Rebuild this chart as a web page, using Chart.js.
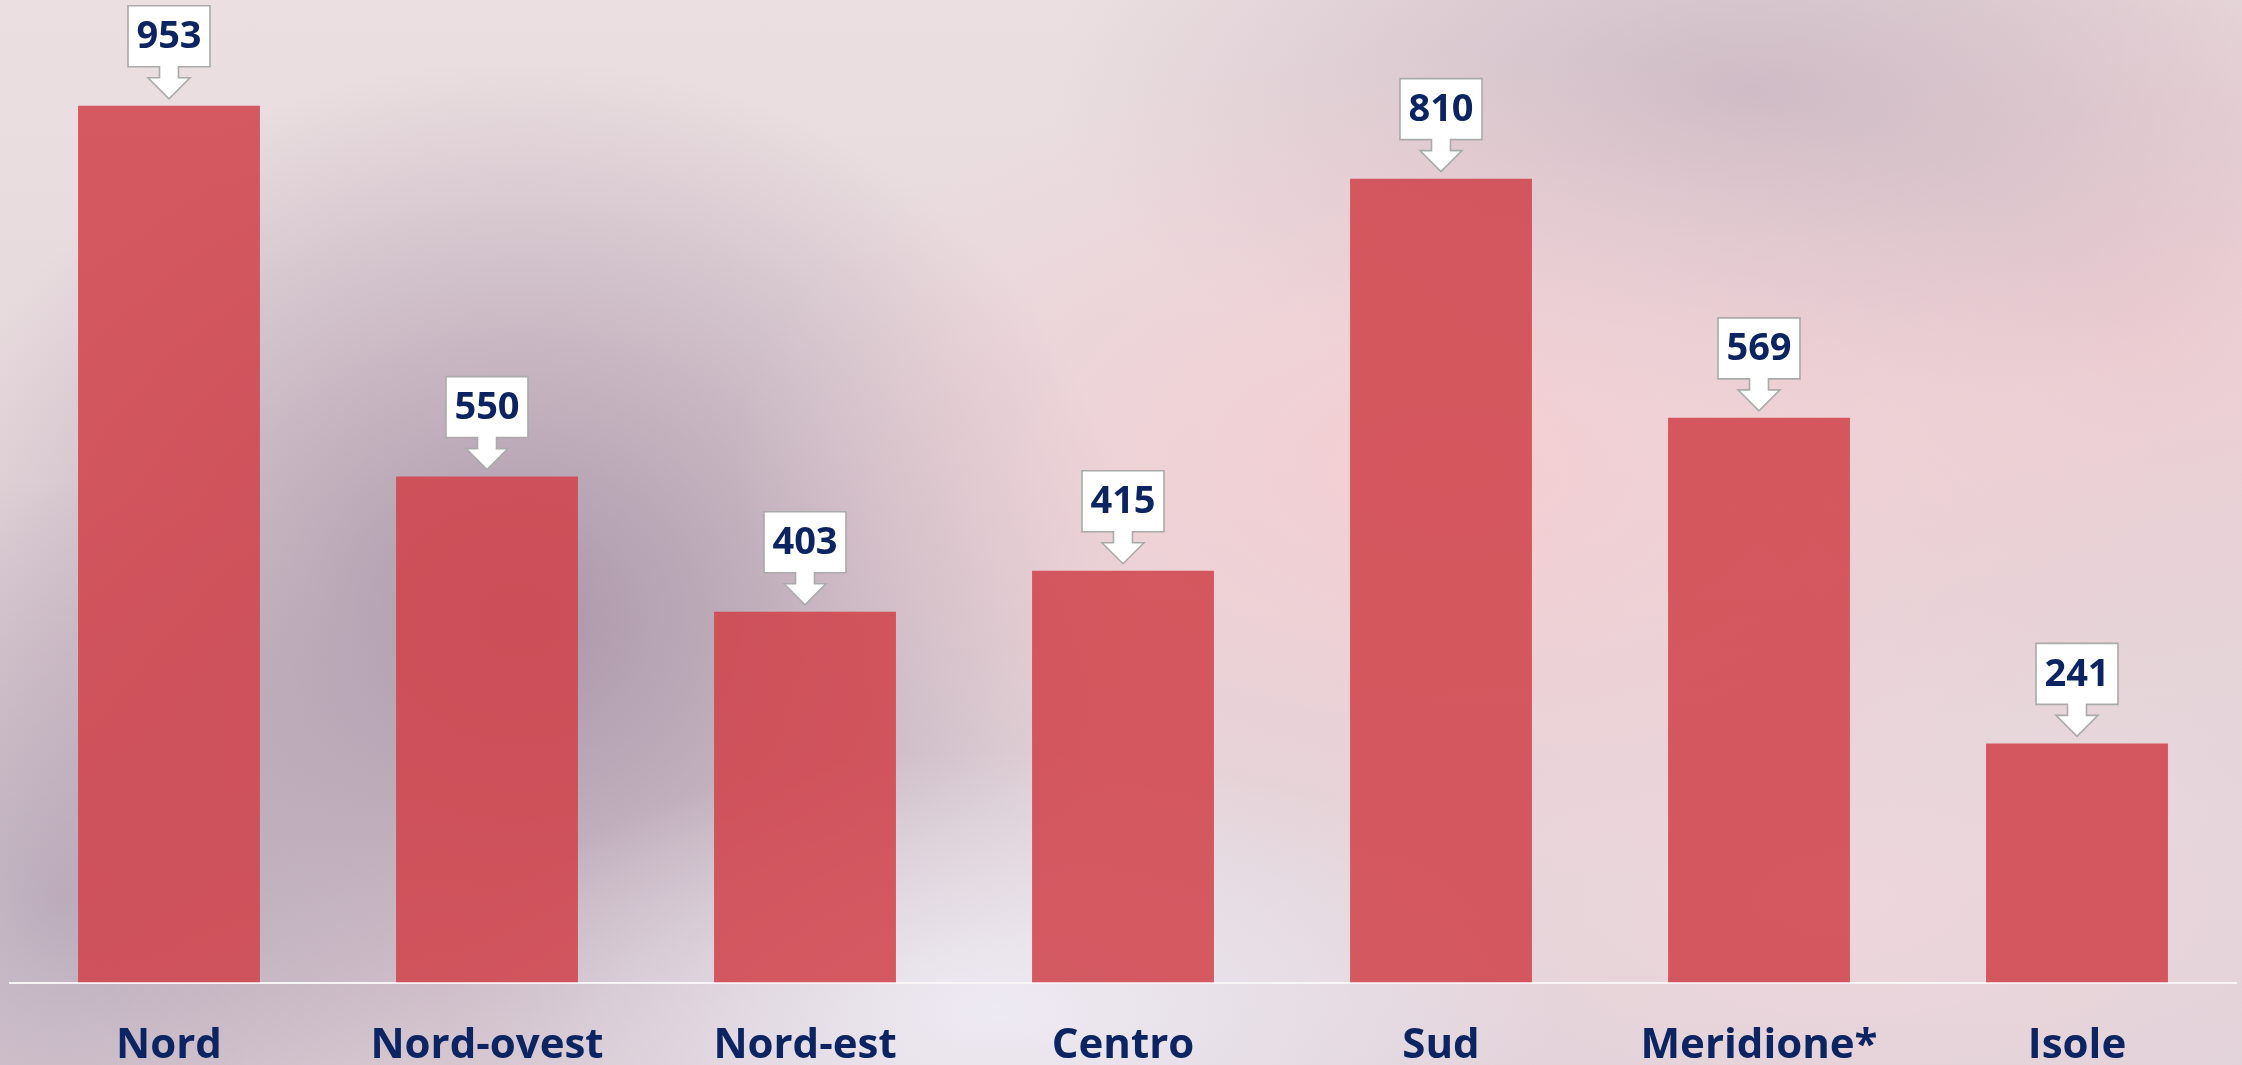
<!DOCTYPE html>
<html>
<head>
<meta charset="utf-8">
<script src="https://cdn.jsdelivr.net/npm/chart.js@4/dist/chart.umd.min.js"></script>
<style>
  html, body { margin: 0; padding: 0; }
  body {
    width: 2242px; height: 1065px; overflow: hidden; position: relative;
    background:
      radial-gradient(ellipse 560px 260px at 1000px 1010px, rgba(238,235,244,0.95), rgba(238,235,244,0) 100%),
      radial-gradient(ellipse 720px 420px at 1450px 470px, rgba(246,204,209,0.85), rgba(246,204,209,0) 100%),
      radial-gradient(ellipse 620px 560px at 520px 620px, rgba(160,138,160,0.85), rgba(160,138,160,0) 100%),
      radial-gradient(ellipse 380px 420px at 60px 900px, rgba(175,160,178,0.7), rgba(175,160,178,0) 100%),
      radial-gradient(ellipse 700px 330px at 1750px 90px, rgba(198,176,188,0.75), rgba(198,176,188,0) 100%),
      radial-gradient(ellipse 500px 420px at 2150px 320px, rgba(238,198,204,0.7), rgba(238,198,204,0) 100%),
      radial-gradient(ellipse 600px 300px at 1850px 900px, rgba(240,215,220,0.8), rgba(240,215,220,0) 100%),
      linear-gradient(180deg, #ebdfe1 0%, #e4d6da 60%, #e0d2d9 100%);
  }
  /* il grafico originale taglia le etichette in basso */
  #wrap { position: absolute; left: 0; top: 0; width: 2242px; height: 1101px; }
</style>
</head>
<body>
<div id="wrap"><canvas id="chartRegions"></canvas></div>
<script>
// dati
var regionLabels = ['Nord', 'Nord-ovest', 'Nord-est', 'Centro', 'Sud', 'Meridione*', 'Isole']
var regionValues = [953, 550, 403, 415, 810, 569, 241]
// gruppo 'a' = nord, gruppo 'b' = centro/sud (scala diversa nel grafico originale)
var regionGroups = ['a', 'a', 'a', 'b', 'b', 'b', 'b']

var navy = '#0c2461'
var barColor = 'rgba(208,66,74,0.86)'

function groupData(g) {
  return regionValues.map(function (v, i) { return regionGroups[i] === g ? v : null })
}

// etichette a freccia sopra le barre
var calloutPlugin = {
  id: 'callouts',
  afterDatasetsDraw: function (chart) {
    var ctx = chart.ctx
    chart.data.datasets.forEach(function (ds, di) {
      var meta = chart.getDatasetMeta(di)
      meta.data.forEach(function (el, i) {
        var v = ds.data[i]
        if (v === null) return
        var x = el.x
        var tip = el.y - 7
        var headH = 21, headW = 42, stemW = 19, stemH = 11
        var boxW = 82, boxH = 61
        var headTop = tip - headH
        var boxBottom = headTop - stemH
        var boxTop = boxBottom - boxH
        ctx.save()
        ctx.beginPath()
        ctx.moveTo(x - boxW / 2, boxTop)
        ctx.lineTo(x + boxW / 2, boxTop)
        ctx.lineTo(x + boxW / 2, boxBottom)
        ctx.lineTo(x + stemW / 2, boxBottom)
        ctx.lineTo(x + stemW / 2, headTop)
        ctx.lineTo(x + headW / 2, headTop)
        ctx.lineTo(x, tip)
        ctx.lineTo(x - headW / 2, headTop)
        ctx.lineTo(x - stemW / 2, headTop)
        ctx.lineTo(x - stemW / 2, boxBottom)
        ctx.lineTo(x - boxW / 2, boxBottom)
        ctx.closePath()
        ctx.fillStyle = '#ffffff'
        ctx.fill()
        ctx.lineWidth = 1.6
        ctx.strokeStyle = '#aaaaaa'
        ctx.stroke()
        ctx.fillStyle = navy
        ctx.font = 'bold 38px "Open Sans"'
        ctx.textAlign = 'center'
        ctx.textBaseline = 'middle'
        ctx.fillText(String(v), x, (boxTop + boxBottom) / 2 + 1)
        ctx.restore()
      })
    })
  }
}

var chartRegionsCanvas = document.getElementById('chartRegions').getContext('2d')

new Chart(chartRegionsCanvas, {
  type: 'bar',
  data: {
    labels: regionLabels,
    datasets: [
      { data: groupData('a'), backgroundColor: barColor, yAxisID: 'yA', skipNull: true },
      { data: groupData('b'), backgroundColor: barColor, yAxisID: 'yB', skipNull: true }
    ]
  },
  options: {
    responsive: true,
    maintainAspectRatio: false,
    animation: false,
    categoryPercentage: 1,
    barPercentage: 0.572,
    layout: { padding: { left: 10, right: 6, top: 0, bottom: 0 } },
    plugins: { legend: { display: false }, tooltip: { enabled: false } },
    scales: {
      x: {
        grid: { display: false },
        border: { display: true, color: 'rgba(250,247,249,0.95)', width: 2 },
        ticks: {
          color: navy,
          padding: 30,
          maxRotation: 0,
          font: { family: 'Open Sans', weight: 'bold', size: 42 }
        }
      },
      yA: { display: false, min: 0, max: 1068 },
      yB: { display: false, min: 0, max: 990 }
    }
  },
  plugins: [calloutPlugin]
})
</script>
</body>
</html>
